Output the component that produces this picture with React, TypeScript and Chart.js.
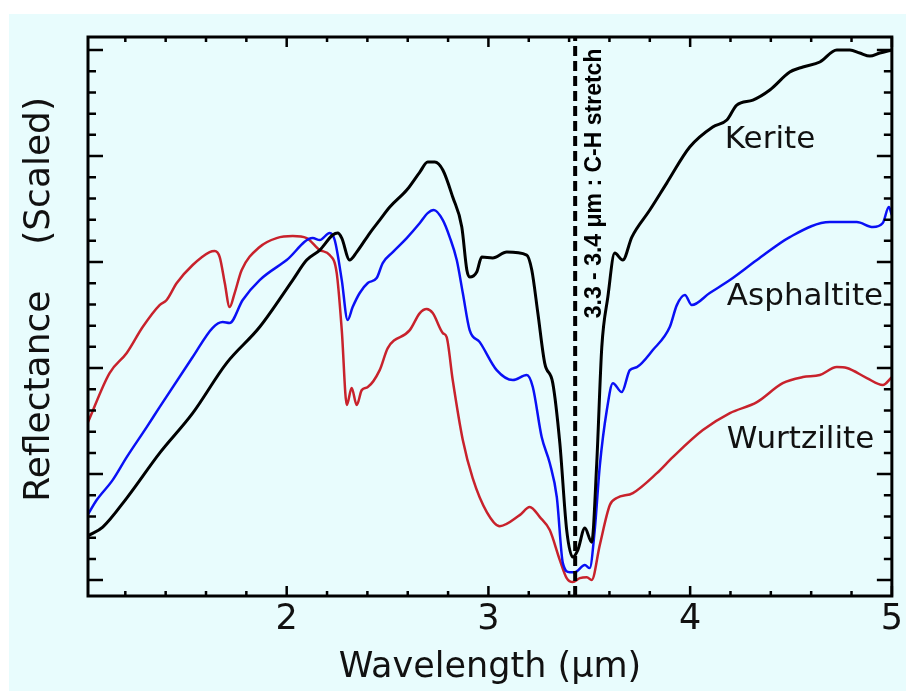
import React, { useEffect, useRef } from 'react';
import { Chart, registerables } from 'chart.js';
Chart.register(...registerables);

const X_MIN = 1.015;
const X_MAX = 5.0;
const Y_MIN = -0.15;
const Y_MAX = 5.123;
const X_TICKS = [2, 3, 4, 5];

const KERITE_X = [1.013,1.088,1.207,1.370,1.534,1.702,1.866,2.030,2.099,2.164,2.228,2.253,2.273,2.312,2.347,2.412,2.461,2.511,2.595,2.660,2.699,2.734,2.774,2.823,2.868,2.893,2.907,2.942,2.967,3.021,3.091,3.190,3.215,3.245,3.279,3.319,3.354,3.388,3.418,3.443,3.478,3.512,3.537,3.562,3.592,3.626,3.666,3.711,3.800,3.884,3.998,4.112,4.182,4.231,4.311,4.395,4.494,4.559,4.643,4.727,4.792,4.841,4.891,4.940,5.000];
const KERITE_Y = [0.415,0.500,0.774,1.198,1.575,2.047,2.387,2.830,3.019,3.113,3.255,3.274,3.226,3.019,3.094,3.274,3.396,3.519,3.679,3.849,3.943,3.943,3.868,3.613,3.330,2.925,2.858,2.906,3.047,3.038,3.094,3.066,2.925,2.519,2.047,1.858,1.292,0.472,0.217,0.283,0.491,0.358,1.104,2.198,2.670,3.085,3.019,3.236,3.491,3.745,4.085,4.274,4.340,4.481,4.528,4.623,4.792,4.840,4.887,5.000,5.000,4.972,4.943,4.972,5.000];

const ASPH_X = [1.013,1.058,1.137,1.207,1.306,1.370,1.534,1.633,1.683,1.717,1.782,1.866,2.000,2.129,2.164,2.213,2.238,2.273,2.302,2.327,2.362,2.402,2.446,2.476,2.526,2.595,2.660,2.699,2.729,2.774,2.808,2.843,2.873,2.907,2.957,3.041,3.121,3.190,3.220,3.264,3.304,3.339,3.369,3.403,3.428,3.478,3.502,3.527,3.552,3.587,3.617,3.661,3.701,3.736,3.815,3.899,3.934,3.974,4.008,4.097,4.197,4.331,4.494,4.693,4.826,4.906,4.955,4.985,5.000];
const ASPH_Y = [0.613,0.755,0.943,1.160,1.443,1.632,2.104,2.380,2.434,2.425,2.642,2.830,3.019,3.226,3.208,3.274,3.208,2.830,2.453,2.575,2.708,2.802,2.849,2.991,3.094,3.226,3.368,3.462,3.491,3.396,3.236,3.019,2.708,2.358,2.245,1.981,1.887,1.934,1.821,1.349,1.104,0.783,0.160,0.075,0.075,0.142,0.113,0.472,1.075,1.604,1.858,1.774,1.981,2.009,2.170,2.387,2.594,2.689,2.594,2.708,2.830,3.019,3.236,3.377,3.377,3.330,3.368,3.519,3.443];

const WURTZ_X = [1.013,1.122,1.207,1.286,1.370,1.405,1.455,1.534,1.618,1.643,1.668,1.693,1.717,1.742,1.777,1.866,1.950,2.030,2.099,2.164,2.213,2.248,2.273,2.298,2.322,2.347,2.372,2.402,2.461,2.501,2.610,2.660,2.694,2.724,2.774,2.793,2.823,2.873,2.922,2.992,3.056,3.155,3.205,3.255,3.304,3.354,3.388,3.418,3.453,3.488,3.512,3.552,3.602,3.636,3.716,3.835,3.914,4.063,4.197,4.331,4.459,4.559,4.643,4.727,4.777,4.876,4.955,5.000];
const WURTZ_Y = [1.481,1.953,2.142,2.387,2.594,2.642,2.802,2.972,3.094,3.104,3.047,2.802,2.575,2.708,2.925,3.142,3.226,3.245,3.226,3.113,3.066,2.896,2.358,1.651,1.811,1.651,1.792,1.821,1.981,2.189,2.358,2.519,2.557,2.519,2.330,2.292,1.887,1.321,0.962,0.642,0.509,0.613,0.689,0.594,0.472,0.189,0.019,-0.019,0.019,0.028,0.000,0.330,0.708,0.774,0.821,1.009,1.160,1.415,1.575,1.679,1.858,1.915,1.934,2.009,2.000,1.906,1.840,1.915];

const MARKER_X = 3.43;
const LABELS = ['Kerite', 'Asphaltite', 'Wurtzilite'];
const LABEL_X = [4.172, 4.182, 4.182];
const LABEL_Y = [4.15, 2.67, 1.32];
const ANNOT_TEXT = '3.3 - 3.4 \u03bcm : C-H stretch';
const ANNOT_X = 3.527;
const ANNOT_Y = 2.47;

const zip = (xs: number[], ys: number[]) => {
  const n = Math.min(xs.length, ys.length);
  const out: { x: number; y: number }[] = [];
  for (let i = 0; i < n; i++) out.push({ x: xs[i], y: ys[i] });
  return out;
};

const frameTicks = {
  id: 'frameTicks',
  afterDatasetsDraw(chart: any) {
    const { ctx, chartArea, scales } = chart;
    const { left, right, top, bottom } = chartArea;
    const xs = scales.x;
    const ys = scales.y;
    ctx.save();
    ctx.strokeStyle = '#000';
    ctx.lineWidth = 2.5;
    ctx.beginPath();
    for (let i = 6; i <= 25; i++) {
      const v = i / 5;
      const px = xs.getPixelForValue(v);
      const len = i % 5 === 0 ? 10 : 5;
      ctx.moveTo(px, bottom);
      ctx.lineTo(px, bottom - len);
      ctx.moveTo(px, top);
      ctx.lineTo(px, top + len);
    }
    for (let i = 0; i <= 25; i++) {
      const v = i / 5;
      const py = ys.getPixelForValue(v);
      const len = i % 5 === 0 ? 15 : 8;
      ctx.moveTo(left, py);
      ctx.lineTo(left + len, py);
      ctx.moveTo(right, py);
      ctx.lineTo(right - len, py);
    }
    ctx.stroke();
    ctx.lineWidth = 3;
    ctx.strokeRect(left, top, right - left, bottom - top);

    ctx.fillStyle = '#111';
    ctx.font = '31px "DejaVu Sans"';
    ctx.textAlign = 'left';
    ctx.textBaseline = 'middle';
    LABELS.forEach((t, i) => {
      ctx.fillText(t, xs.getPixelForValue(LABEL_X[i]), ys.getPixelForValue(LABEL_Y[i]));
    });

    ctx.translate(xs.getPixelForValue(ANNOT_X), ys.getPixelForValue(ANNOT_Y));
    ctx.rotate(-Math.PI / 2);
    ctx.font = 'bold 23px "Liberation Sans"';
    ctx.fillStyle = '#000';
    ctx.textAlign = 'left';
    ctx.textBaseline = 'middle';
    ctx.fillText(ANNOT_TEXT, 0, 0);
    ctx.restore();
  },
};

export default function App() {
  const ref = useRef<HTMLCanvasElement | null>(null);
  useEffect(() => {
    if (!ref.current) return;
    const chart = new Chart(ref.current, {
      type: 'line',
      data: {
        datasets: [
          {
            label: 'marker',
            data: [{ x: MARKER_X, y: Y_MIN }, { x: MARKER_X, y: Y_MAX }],
            borderColor: '#000',
            borderWidth: 4,
            borderDash: [10, 5],
            pointRadius: 0,
          },
          {
            label: 'Kerite',
            data: zip(KERITE_X, KERITE_Y),
            borderColor: '#000000',
            borderWidth: 3,
            pointRadius: 0,
            cubicInterpolationMode: 'monotone',
          },
          {
            label: 'Asphaltite',
            data: zip(ASPH_X, ASPH_Y),
            borderColor: '#0a10f5',
            borderWidth: 2.5,
            pointRadius: 0,
            cubicInterpolationMode: 'monotone',
          },
          {
            label: 'Wurtzilite',
            data: zip(WURTZ_X, WURTZ_Y),
            borderColor: '#c8222c',
            borderWidth: 2.5,
            pointRadius: 0,
            cubicInterpolationMode: 'monotone',
          },
        ],
      },
      options: {
        animation: false,
        responsive: true,
        maintainAspectRatio: false,
        parsing: false,
        layout: { padding: { top: 23, right: 14, left: 0, bottom: 0 } },
        plugins: { legend: { display: false }, tooltip: { enabled: false } },
        scales: {
          x: {
            type: 'linear',
            min: X_MIN,
            max: X_MAX,
            grid: { display: false, drawTicks: false },
            border: { display: false },
            afterBuildTicks: (s: any) => {
              s.ticks = X_TICKS.map((v) => ({ value: v }));
            },
            afterFit: (s: any) => {
              s.height = 95;
            },
            ticks: {
              padding: 3,
              color: '#111',
              font: { family: '"DejaVu Sans"', size: 35 },
              maxRotation: 0,
              callback: (v: any) => String(v),
            },
            title: {
              display: true,
              text: 'Wavelength (\u03bcm)',
              color: '#111',
              font: { family: '"DejaVu Sans"', size: 35 },
              padding: { top: 0, bottom: 2 },
            },
          },
          y: {
            type: 'linear',
            min: Y_MIN,
            max: Y_MAX,
            grid: { display: false, drawTicks: false },
            border: { display: false },
            ticks: { display: false },
            afterFit: (s: any) => {
              s.width = 79;
            },
            title: {
              display: true,
              text: '   Reflectance    (Scaled)',
              color: '#111',
              font: { family: '"DejaVu Sans"', size: 36 },
              padding: { top: 9, bottom: 0 },
            },
          },
        },
      },
      plugins: [frameTicks],
    } as any);
    return () => chart.destroy();
  }, []);
  return (
    <div
      style={{
        position: 'fixed',
        left: 9,
        top: 14,
        width: 897,
        height: 677,
        background: '#e8fcfd',
      }}
    >
      <canvas ref={ref} />
    </div>
  );
}
